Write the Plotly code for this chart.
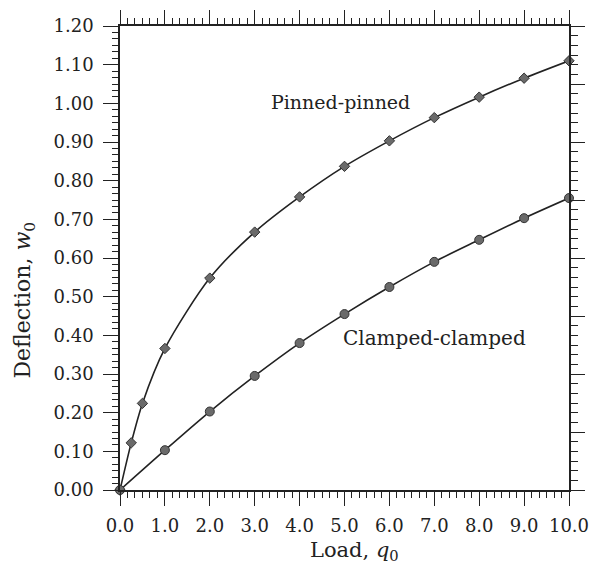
import plotly.graph_objects as go

# Data
pin_x = [0, 0.25, 0.5, 1, 2, 3, 4, 5, 6, 7, 8, 9, 10]
pin_y = [0.0, 0.122, 0.224, 0.366, 0.548, 0.667, 0.758, 0.837, 0.903, 0.963, 1.016, 1.065, 1.110]
clamp_x = [0, 1, 2, 3, 4, 5, 6, 7, 8, 9, 10]
clamp_y = [0.0, 0.103, 0.203, 0.295, 0.380, 0.455, 0.525, 0.590, 0.647, 0.703, 0.755]

x_ticks = [0, 1, 2, 3, 4, 5, 6, 7, 8, 9, 10]
x_labels = ["0.0", "1.0", "2.0", "3.0", "4.0", "5.0", "6.0", "7.0", "8.0", "9.0", "10.0"]
y_ticks = [0.0, 0.1, 0.2, 0.3, 0.4, 0.5, 0.6, 0.7, 0.8, 0.9, 1.0, 1.1, 1.2]
y_labels = ["0.00", "0.10", "0.20", "0.30", "0.40", "0.50", "0.60", "0.70", "0.80", "0.90", "1.00", "1.10", "1.20"]

FONT = "DejaVu Serif"
INK = "#222222"

fig = go.Figure()
fig.add_trace(go.Scatter(
    x=pin_x, y=pin_y, mode="lines+markers",
    line=dict(color=INK, width=1.6, shape="spline", smoothing=0.8),
    marker=dict(symbol="diamond", size=8, color="#6a6a6a", line=dict(color="#333333", width=1)),
    showlegend=False, cliponaxis=False))
fig.add_trace(go.Scatter(
    x=clamp_x, y=clamp_y, mode="lines+markers",
    line=dict(color=INK, width=1.6, shape="spline", smoothing=0.8),
    marker=dict(symbol="circle", size=9, color="#6a6a6a", line=dict(color="#333333", width=1)),
    showlegend=False, cliponaxis=False))
# invisible trace to activate the right-side axis
fig.add_trace(go.Scatter(x=[0], y=[0], yaxis="y2", mode="markers",
                         marker=dict(opacity=0), showlegend=False, hoverinfo="skip"))

fig.update_layout(
    width=590, height=566,
    margin=dict(l=120, r=21, t=26, b=76, autoexpand=False),
    paper_bgcolor="white", plot_bgcolor="white",
    font=dict(family=FONT, color=INK, size=18),
    xaxis=dict(
        range=[0, 10], tickvals=x_ticks, ticktext=x_labels, automargin=False,
        showgrid=False, zeroline=False, showline=True, linecolor=INK, linewidth=1.5,
        mirror="ticks", ticks="outside", ticklen=14, tickwidth=1.3, tickcolor=INK,
        ticklabelstandoff=5,
        minor=dict(dtick=1/6, tick0=0, ticks="outside", ticklen=6, tickwidth=1, tickcolor=INK, showgrid=False),
        tickfont=dict(size=18, family=FONT),
    ),
    yaxis=dict(
        range=[0, 1.2], tickvals=y_ticks, ticktext=y_labels, automargin=False,
        showgrid=False, zeroline=False, showline=True, linecolor=INK, linewidth=1.5,
        ticks="outside", ticklen=15, tickwidth=1.3, tickcolor=INK,
        ticklabelstandoff=6,
        minor=dict(dtick=0.1/6, tick0=0, ticks="outside", ticklen=6, tickwidth=1, tickcolor=INK, showgrid=False),
        tickfont=dict(size=18, family=FONT),
    ),
    yaxis2=dict(
        overlaying="y", side="right", range=[0, 8], dtick=1, tick0=0, automargin=False,
        showticklabels=False, showgrid=False, zeroline=False,
        showline=True, linecolor=INK, linewidth=1.5,
        ticks="outside", ticklen=14, tickwidth=1.3, tickcolor=INK,
        minor=dict(dtick=1/6, tick0=0, ticks="outside", ticklen=7, tickwidth=1, tickcolor=INK, showgrid=False),
    ),
    annotations=[
        dict(x=4.91, y=1.003, xref="x", yref="y", text="Pinned-pinned", showarrow=False,
             xanchor="center", yanchor="middle",
             font=dict(size=19, family=FONT, color=INK)),
        dict(x=7.0, y=0.393, xref="x", yref="y", text="Clamped-clamped", showarrow=False,
             xanchor="center", yanchor="middle",
             font=dict(size=20, family=FONT, color=INK)),
        dict(x=0.523, y=-0.132, xref="paper", yref="paper", text="Load, <i>q</i><sub>0</sub>",
             xanchor="center", yanchor="middle",
             showarrow=False, font=dict(size=21, family=FONT, color=INK)),
        dict(x=-0.212, y=0.41, xref="paper", yref="paper", text="Deflection, <i>w</i><sub>0</sub>",
             xanchor="center", yanchor="middle",
             textangle=-90, showarrow=False, font=dict(size=22, family=FONT, color=INK)),
    ],
)

fig.write_html("out.html")
